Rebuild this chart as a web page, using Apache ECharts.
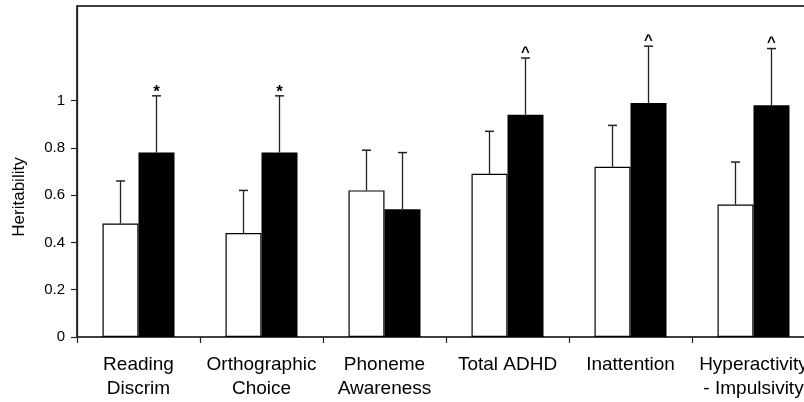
<!DOCTYPE html>
<html>
<head>
<meta charset="utf-8">
<script src="https://cdn.jsdelivr.net/npm/echarts@6/dist/echarts.min.js"></script>
<style>
html,body{margin:0;padding:0;background:#fff;overflow:hidden;width:804px;height:402px;}
#chart{width:830px;height:402px;}
</style>
</head>
<body>
<div id="chart"></div>
<script>
const categories = ['Reading\nDiscrim', 'Orthographic\nChoice', 'Phoneme\nAwareness', 'Total ADHD', 'Inattention', 'Hyperactivity\n- Impulsivity'];
const whiteValues = [0.48, 0.44, 0.62, 0.69, 0.72, 0.56];
const blackValues = [0.78, 0.78, 0.54, 0.94, 0.99, 0.98];
const whiteUpper = [0.66, 0.62, 0.79, 0.87, 0.895, 0.74];
const blackUpper = [1.02, 1.02, 0.78, 1.18, 1.23, 1.22];
const sigMarks = ['*', '*', '', '^', '^', '^'];
const yTicks = [0, 0.2, 0.4, 0.6, 0.8, 1];
const yTitle = 'Heritability';

const BAR_W = 36;

function errData(upper, base, marks) {
  return upper.map((u, i) => [i, u, base[i], marks ? marks[i] : '']);
}

function makeErrRender(offset) {
  return function (params, api) {
    const c = api.coord([api.value(0), api.value(1)]);
    const b = api.coord([api.value(0), api.value(2)]);
    const x = c[0] + offset;
    const mark = api.value(3);
    const children = [
      { type: 'line', shape: { x1: x, y1: b[1], x2: x, y2: c[1] }, style: { stroke: '#222', lineWidth: 1.3 } },
      { type: 'line', shape: { x1: x - 4.5, y1: c[1], x2: x + 4.5, y2: c[1] }, style: { stroke: '#222', lineWidth: 1.5 } }
    ];
    if (mark) {
      const isStar = mark === '*';
      children.push({
        type: 'text',
        style: {
          text: mark, x: x, y: c[1] + (isStar ? 5 : 2),
          align: 'center', verticalAlign: 'bottom',
          font: (isStar ? 'bold 17px' : 'bold 15px') + ' "Liberation Sans", Arial, sans-serif', fill: '#000'
        }
      });
    }
    return { type: 'group', children: children };
  };
}

const chart = echarts.init(document.getElementById('chart'), null, { renderer: 'canvas' });
chart.setOption({
  animation: false,
  backgroundColor: '#fff',
  grid: { left: 77, top: 6, width: 738, height: 331, show: true, borderColor: '#000', borderWidth: 1.5, backgroundColor: 'transparent' },
  xAxis: {
    type: 'category',
    data: categories,
    axisLine: { lineStyle: { color: '#444', width: 1.2, type: 'dotted' } },
    axisTick: { show: true, length: 6, lineStyle: { color: '#222', width: 1.2 } },
    axisLabel: { interval: 0, margin: 16, color: '#000', fontSize: 19, lineHeight: 24, fontFamily: '"Liberation Sans", Arial, sans-serif' },
    splitLine: { show: false }
  },
  yAxis: {
    type: 'value',
    min: 0, max: 1.4, interval: 0.2,
    axisLine: { show: true, lineStyle: { color: '#222', width: 1.3 } },
    axisTick: { show: true, length: 6, customValues: yTicks, lineStyle: { color: '#222', width: 1.2 } },
    axisLabel: { customValues: yTicks, margin: 12, color: '#000', fontSize: 15, fontFamily: '"Liberation Sans", Arial, sans-serif' },
    splitLine: { show: false }
  },
  graphic: [{
    type: 'text',
    x: 19, y: 197, rotation: Math.PI / 2,
    style: { text: yTitle, align: 'center', verticalAlign: 'middle', font: '17px "Liberation Sans", Arial, sans-serif', fill: '#000' }
  }],
  series: [
    {
      type: 'bar', data: whiteValues, barWidth: BAR_W, barGap: '0%',
      itemStyle: { color: '#fff', borderColor: '#000', borderWidth: 1.2 }
    },
    {
      type: 'bar', data: blackValues, barWidth: BAR_W, barGap: '0%',
      itemStyle: { color: '#000', borderColor: '#000', borderWidth: 0 }
    },
    {
      type: 'custom', data: errData(whiteUpper, whiteValues, null),
      renderItem: makeErrRender(-BAR_W / 2), z: 5
    },
    {
      type: 'custom', data: errData(blackUpper, blackValues, sigMarks),
      renderItem: makeErrRender(BAR_W / 2), z: 5
    }
  ]
});
</script>
</body>
</html>
